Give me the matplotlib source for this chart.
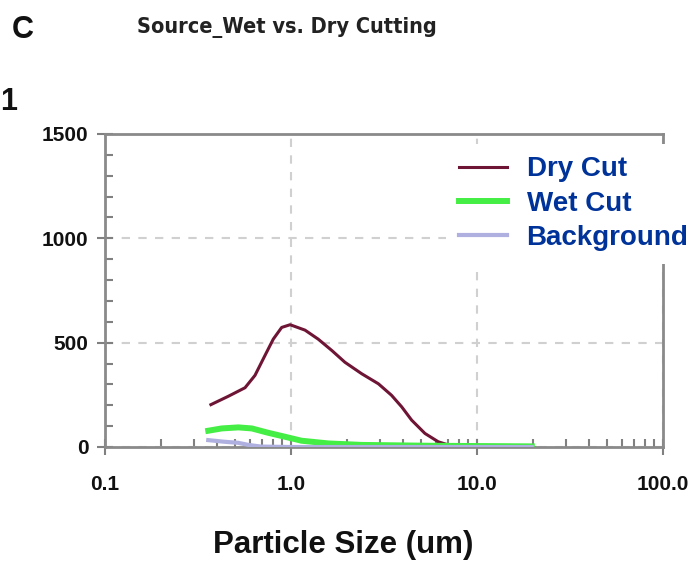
import matplotlib
matplotlib.use("Agg")
import matplotlib.pyplot as plt
from matplotlib.ticker import FixedLocator, LogLocator, MultipleLocator, NullFormatter

# particle size distributions (um vs. count)
dry_size = [0.371, 0.46, 0.566, 0.64, 0.724, 0.803, 0.891, 0.989, 1.19, 1.40,
            1.66, 1.95, 2.40, 2.95, 3.47, 3.94, 4.45, 5.25, 6.19, 7.01, 7.46]
dry_count = [203, 243, 284, 343, 438, 517, 573, 586, 560, 517,
             462, 406, 351, 303, 248, 192, 129, 65, 25, 10, 0]

wet_size = [0.359, 0.424, 0.521, 0.615, 0.755, 0.929, 1.14, 1.59, 2.40, 5.47, 19.7]
wet_count = [78, 89, 94, 89, 68, 49, 30, 17, 10, 6, 3]

bg_size = [0.359, 0.44, 0.521, 0.59, 0.69, 1.0, 19.7]
bg_count = [33, 25, 20, 10, 2, 0, 0]

x_ticks = [0.1, 1.0, 10.0, 100.0]
x_labels = ["0.1", "1.0", "10.0", "100.0"]
y_ticks = [0, 500, 1000, 1500]

sans = ["Liberation Sans", "DejaVu Sans"]

fig = plt.figure(figsize=(6.96, 5.61), dpi=100)
ax = fig.add_axes([105 / 696, 114 / 561, 558 / 696, 313 / 561])

ax.plot(dry_size, dry_count, color="#6e1435", lw=2.2, label="Dry Cut", zorder=3)
ax.plot(wet_size, wet_count, color="#44ee44", lw=4.3, label="Wet Cut", zorder=3)
ax.plot(bg_size, bg_count, color="#b0b0e0", lw=3.0, label="Background", zorder=3)

ax.set_xscale("log")
ax.set_xlim(0.1, 100)
ax.set_ylim(0, 1500)

ax.xaxis.set_major_locator(FixedLocator(x_ticks))
ax.set_xticklabels(x_labels)
ax.xaxis.set_minor_locator(LogLocator(base=10, subs=range(2, 10)))
ax.xaxis.set_minor_formatter(NullFormatter())
ax.yaxis.set_major_locator(FixedLocator(y_ticks))
ax.yaxis.set_minor_locator(MultipleLocator(100))

ax.tick_params(which="major", direction="inout", length=12, width=1.5, color="#808080")
ax.tick_params(which="minor", direction="in", length=6, width=1.5, color="#808080")
ax.tick_params(axis="y", which="major", pad=6)
ax.tick_params(axis="x", which="major", pad=14)
for lab in ax.get_xticklabels() + ax.get_yticklabels():
    lab.set_family(sans)
    lab.set_fontweight("bold")
    lab.set_fontsize(15)
    lab.set_color("#111111")

for sp in ax.spines.values():
    sp.set_color("#8a8a8a")
    sp.set_linewidth(2)

ax.grid(which="major", color="#d0d0d0", linestyle=(0, (4, 4)), lw=1.5)

ax.set_xlabel("Particle Size (um)", family=sans, fontweight="bold", fontsize=22.5,
              color="#111111")
ax.xaxis.set_label_coords(0.4265, -0.313)
ax.xaxis.label.set_va("center")

leg = ax.legend(loc="upper left", bbox_to_anchor=(446 / 696, 1 - 144 / 561),
                bbox_transform=fig.transFigure, frameon=True, fancybox=False,
                handlelength=1.75, handletextpad=0.7, labelspacing=0.3,
                borderpad=0.45, borderaxespad=0,
                prop={"family": sans, "weight": "bold", "size": 20})
leg.get_frame().set_facecolor("white")
leg.get_frame().set_edgecolor("none")
leg.get_frame().set_alpha(1)
for txt in leg.get_texts():
    txt.set_color("#003399")

fig.text(12 / 696, 1 - 38 / 561, "C", family=sans, fontweight="bold", fontsize=22,
         color="#111111")
fig.text(287 / 696, 1 - 28 / 561, "Source_Wet vs. Dry Cutting", family="DejaVu Sans",
         fontstretch="condensed", fontweight="bold", fontsize=15.6, color="#222222",
         ha="center", va="center")
fig.text(0, 1 - 110 / 561, "1", family=sans, fontweight="bold", fontsize=22,
         color="#111111")

fig.savefig("out.png", dpi=100)
